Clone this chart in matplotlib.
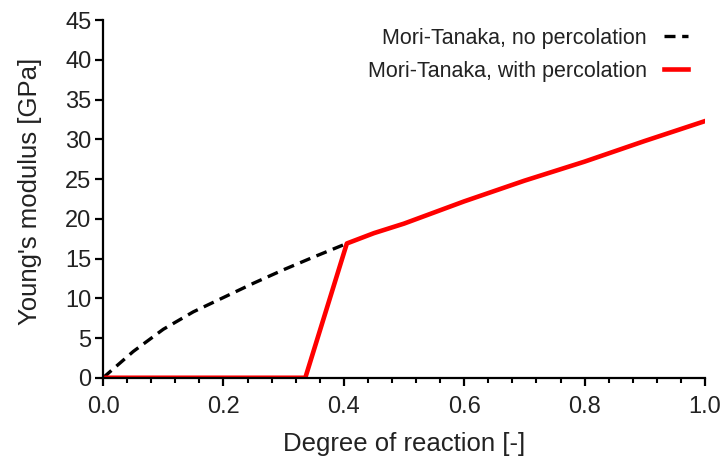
import numpy as np
import matplotlib.pyplot as plt
from matplotlib.ticker import MultipleLocator

# Values
doh_np = [0.0, 0.05, 0.10, 0.15, 0.20, 0.25, 0.30, 0.35, 0.405]
E_np = [0.0, 3.3, 6.1, 8.3, 10.1, 11.9, 13.6, 15.2, 16.9]

doh_p = [0.0, 0.336, 0.405, 0.45, 0.50, 0.55, 0.60, 0.70, 0.80, 0.90, 1.0]
E_p = [0.0, 0.0, 16.9, 18.2, 19.4, 20.8, 22.2, 24.8, 27.2, 29.8, 32.3]

xticks = [0.0, 0.2, 0.4, 0.6, 0.8, 1.0]

plt.rcParams['font.family'] = ['Liberation Sans', 'DejaVu Sans']
txt = '#222222'

fig = plt.figure(figsize=(7.26, 4.59), dpi=100)
ax = fig.add_axes([0.142, 0.177, 0.829, 0.779])

ax.plot(doh_np, E_np, color='black', linestyle=(0, (3.3, 2.0)), linewidth=2.4,
        label="Mori-Tanaka, no percolation")
ax.plot(doh_p, E_p, color='#ff0000', linewidth=3.3,
        label="Mori-Tanaka, with percolation")

ax.set_xlim(0, 1.0)
ax.set_ylim(0, 45)
ax.set_xticks(xticks)
ax.set_xticklabels([f"{v:.1f}" for v in xticks])
ax.xaxis.set_minor_locator(MultipleLocator(0.04))
ax.yaxis.set_major_locator(MultipleLocator(5))

for s in ['top', 'right']:
    ax.spines[s].set_visible(False)
for s in ['left', 'bottom']:
    ax.spines[s].set_linewidth(1.6)
ax.tick_params(which='major', direction='out', length=5.5, width=1.6, labelsize=17,
               labelcolor=txt)
ax.tick_params(axis='x', which='major', pad=7.5)
ax.tick_params(axis='y', which='major', pad=3)
ax.tick_params(which='minor', direction='out', length=3.5, width=1.5)

ax.set_xlabel("Degree of reaction [-]", fontsize=18.5, labelpad=10, color=txt)
ax.set_ylabel("Young's modulus [GPa]", fontsize=18.5, color=txt)
ax.yaxis.set_label_coords(-0.102, 0.522)

leg = ax.legend(loc='upper right', frameon=False, markerfirst=False, fontsize=15.5,
                handlelength=1.1, handletextpad=0.8, labelspacing=0.55,
                borderaxespad=0, bbox_to_anchor=(0.9595, 0.958),
                bbox_transform=fig.transFigure)
for t in leg.get_texts():
    t.set_color(txt)

plt.savefig("out.png", dpi=100)
